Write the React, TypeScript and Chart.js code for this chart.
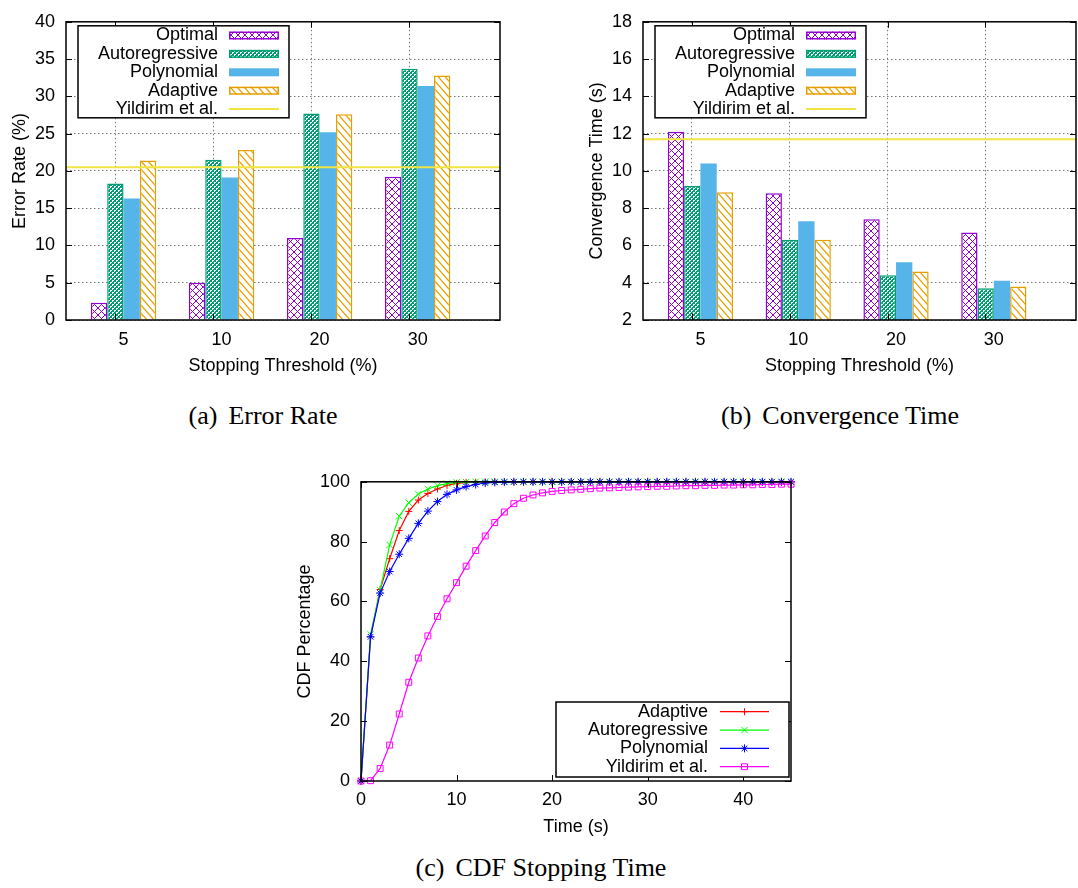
import React, { useEffect, useRef } from 'react';
import { Chart, registerables } from 'chart.js';
import { drawPoint } from 'chart.js/helpers';

Chart.register(...registerables);

const FONT = '"Liberation Sans", Arial, Helvetica, sans-serif';
const SERIF = '"Liberation Serif", "Times New Roman", Times, serif';

const PURPLE = '#9400D3';
const GREEN = '#009E73';
const BLUE = '#56B4E9';
const ORANGE = '#E69F00';
const YELLOW = '#F0E442';
const GRID = '#7a7a7a';

// ---- (a) / (b) data ----
const THRESHOLDS = ['5', '10', '20', '30'];

const ERR_OPTIMAL = [2.3, 5.0, 11.0, 19.2];
const ERR_AUTOREG = [18.3, 21.5, 27.7, 33.7];
const ERR_POLY = [16.3, 19.1, 25.2, 31.4];
const ERR_ADAPTIVE = [21.4, 22.8, 27.6, 32.8];
const ERR_YILDIRIM = 20.5;

const CONV_OPTIMAL = [12.1, 8.8, 7.4, 6.7];
const CONV_AUTOREG = [9.2, 6.3, 4.4, 3.7];
const CONV_POLY = [10.4, 7.3, 5.1, 4.1];
const CONV_ADAPTIVE = [8.85, 6.3, 4.6, 3.8];
const CONV_YILDIRIM = 11.7;

// ---- (c) data ----
const CDF_TIME = [
  0, 1, 2, 3, 4, 5, 6, 7, 8, 9,
  10, 11, 12, 13, 14, 15, 16, 17, 18, 19,
  20, 21, 22, 23, 24, 25, 26, 27, 28, 29,
  30, 31, 32, 33, 34, 35, 36, 37, 38, 39,
  40, 41, 42, 43, 44, 45,
];
const CDF_ADAPTIVE = [
  0, 48.2, 64.0, 74.3, 83.7, 90.1, 93.9, 96.1, 97.6, 98.8,
  99.5, 99.8, 99.9, 100, 100, 100, 100, 100, 100, 100,
  100, 100, 100, 100, 100, 100, 100, 100, 100, 100,
  100, 100, 100, 100, 100, 100, 100, 100, 100, 100,
  100, 100, 100, 100, 100, 100,
];
const CDF_AUTOREG = [
  0, 49.0, 63.8, 78.9, 88.5, 93.0, 95.9, 97.6, 98.7, 99.4,
  99.8, 99.9, 100, 100, 100, 100, 100, 100, 100, 100,
  100, 100, 100, 100, 100, 100, 100, 100, 100, 100,
  100, 100, 100, 100, 100, 100, 100, 100, 100, 100,
  100, 100, 100, 100, 100, 100,
];
const CDF_POLY = [
  0, 48.2, 62.8, 70.0, 75.8, 81.1, 86.1, 90.2, 93.4, 95.8,
  97.3, 98.4, 99.1, 99.6, 99.8, 99.9, 100, 100, 100, 100,
  100, 100, 100, 100, 100, 100, 100, 100, 100, 100,
  100, 100, 100, 100, 100, 100, 100, 100, 100, 100,
  100, 100, 100, 100, 100, 100,
];
const CDF_YILDIRIM = [
  0, 0.1, 4.2, 12.0, 22.4, 33.0, 41.1, 48.5, 55.0, 60.9,
  66.3, 71.8, 77.0, 81.9, 86.4, 89.9, 92.7, 94.5, 95.6, 96.3,
  96.8, 97.1, 97.3, 97.5, 97.7, 97.9, 98.0, 98.1, 98.2, 98.3,
  98.4, 98.5, 98.5, 98.6, 98.7, 98.7, 98.8, 98.8, 98.9, 98.9,
  99.0, 99.0, 99.1, 99.1, 99.2, 99.2,
];

// axis range of the clustered-bar charts (in category units)
const X_MIN = -0.587;
const X_MAX = 3.84;
const GRID_SHIFT = 0.087;

const tickFont = { family: FONT, size: 18 };

function makeTile(ctx: any, w: number, h: number, draw: (g: any) => void) {
  const c = document.createElement('canvas');
  c.width = w;
  c.height = h;
  const g = c.getContext('2d')!;
  draw(g);
  return ctx.createPattern(c, 'repeat');
}

function diag(g: any, w: number, h: number, dir: number) {
  for (const dx of [-w, 0, w]) {
    g.beginPath();
    if (dir > 0) {
      g.moveTo(dx - w * 0.5, -h * 0.5);
      g.lineTo(dx + w * 1.5, h * 1.5);
    } else {
      g.moveTo(dx + w * 1.5, -h * 0.5);
      g.lineTo(dx - w * 0.5, h * 1.5);
    }
    g.stroke();
  }
}

function makePatterns(ctx: any) {
  const cross = makeTile(ctx, 7, 7, (g) => {
    g.fillStyle = '#fff';
    g.fillRect(0, 0, 7, 7);
    g.strokeStyle = PURPLE;
    g.lineWidth = 1;
    diag(g, 7, 7, 1);
    diag(g, 7, 7, -1);
  });
  const dense = makeTile(ctx, 4, 4, (g) => {
    g.fillStyle = GREEN;
    g.fillRect(0, 0, 4, 4);
    g.fillStyle = '#fff';
    g.fillRect(0, 0, 2, 1);
    g.fillRect(0, 1, 1, 1);
    g.fillRect(2, 2, 2, 1);
    g.fillRect(2, 3, 1, 1);
  });
  const hatch = makeTile(ctx, 7, 8, (g) => {
    g.fillStyle = '#fff';
    g.fillRect(0, 0, 7, 8);
    g.strokeStyle = ORANGE;
    g.lineWidth = 1.2;
    diag(g, 7, 8, 1);
  });
  return { cross, dense, hatch };
}

// gnuplot-like frame with inward tick marks on all four sides
const gpFrame = {
  id: 'gpFrame',
  afterDatasetsDraw(chart: any, _args: any, o: any) {
    const { ctx, chartArea: a } = chart;
    const len = 6;
    ctx.save();
    ctx.strokeStyle = '#000';
    ctx.lineWidth = 1;
    ctx.beginPath();
    const ys = chart.scales[o.yId || 'y'];
    for (const t of ys.ticks) {
      const p = Math.round(ys.getPixelForValue(t.value)) + 0.5;
      ctx.moveTo(a.left, p);
      ctx.lineTo(a.left + len, p);
      ctx.moveTo(a.right, p);
      ctx.lineTo(a.right - len, p);
    }
    const xs = chart.scales[o.xId || 'x'];
    for (const t of xs.ticks) {
      const p = Math.round(xs.getPixelForValue(t.value)) + 0.5;
      if (p < a.left - 1 || p > a.right + 1) continue;
      ctx.moveTo(p, a.bottom);
      ctx.lineTo(p, a.bottom - len);
      ctx.moveTo(p, a.top);
      ctx.lineTo(p, a.top + len);
    }
    ctx.stroke();
    ctx.lineWidth = 1.5;
    ctx.strokeRect(a.left, a.top, a.right - a.left, a.bottom - a.top);
    ctx.restore();
  },
};

// gnuplot-like key: right-aligned text, sample on the right
const gpLegend = {
  id: 'gpLegend',
  afterDatasetsDraw(chart: any, _args: any, o: any) {
    if (!o || o.bx0 === undefined) return;
    const { ctx, chartArea: a } = chart;
    const ox = o.fromRight ? a.right : a.left;
    const oy = o.fromBottom ? a.bottom : a.top;
    ctx.save();
    ctx.fillStyle = '#fff';
    ctx.fillRect(ox + o.bx0, oy + o.by0, o.bx1 - o.bx0, o.by1 - o.by0);
    ctx.strokeStyle = '#000';
    ctx.lineWidth = 1.5;
    ctx.strokeRect(ox + o.bx0, oy + o.by0, o.bx1 - o.bx0, o.by1 - o.by0);
    ctx.font = `18px ${FONT}`;
    ctx.textAlign = 'right';
    ctx.textBaseline = 'middle';
    const sx0 = ox + o.s0;
    const sx1 = ox + o.s1;
    chart.data.datasets.forEach((ds: any, i: number) => {
      const y = oy + o.row0 + i * o.step;
      ctx.fillStyle = '#000';
      ctx.fillText(ds.label, ox + o.tr, y);
      const isLine = ds.type === 'line' || chart.config.type === 'line';
      if (isLine) {
        ctx.strokeStyle = ds.borderColor;
        ctx.lineWidth = ds.borderWidth;
        ctx.beginPath();
        ctx.moveTo(sx0, y);
        ctx.lineTo(sx1, y);
        ctx.stroke();
        if (ds.pointRadius > 0) {
          ctx.fillStyle = ds.pointBackgroundColor || 'rgba(0,0,0,0)';
          ctx.strokeStyle = ds.borderColor;
          ctx.lineWidth = ds.pointBorderWidth || 1;
          drawPoint(
            ctx,
            { pointStyle: ds.pointStyle, radius: ds.pointRadius, rotation: 0, borderWidth: ds.pointBorderWidth || 1 } as any,
            (sx0 + sx1) / 2,
            y
          );
        }
      } else {
        const h = o.swH;
        ctx.fillStyle = ds.backgroundColor;
        ctx.fillRect(sx0, y - h / 2, sx1 - sx0, h);
        if (ds.borderWidth) {
          ctx.strokeStyle = ds.borderColor;
          ctx.lineWidth = ds.borderWidth;
          ctx.strokeRect(sx0 + 0.75, y - h / 2 + 0.75, sx1 - sx0 - 1.5, h - 1.5);
        }
      }
    });
    ctx.restore();
  },
};

type BarSpec = {
  optimal: number[];
  autoreg: number[];
  poly: number[];
  adaptive: number[];
  yildirim: number;
  yMin: number;
  yMax: number;
  yStep: number;
  yTitle: string;
  padRight: number;
};

function barConfig(ctx: any, spec: BarSpec) {
  const p = makePatterns(ctx);
  const pts = (arr: number[]) => arr.map((y, i) => ({ x: i, y }));
  const common = { xAxisID: 'x', yAxisID: 'y', categoryPercentage: 0.667, barPercentage: 1, order: 1 };
  return {
    type: 'bar',
    data: {
      datasets: [
        { ...common, label: 'Optimal', data: pts(spec.optimal), backgroundColor: p.cross, borderColor: PURPLE, borderWidth: 1.5 },
        { ...common, label: 'Autoregressive', data: pts(spec.autoreg), backgroundColor: p.dense, borderColor: GREEN, borderWidth: 1.5 },
        { ...common, label: 'Polynomial', data: pts(spec.poly), backgroundColor: BLUE, borderColor: BLUE, borderWidth: 0 },
        { ...common, label: 'Adaptive', data: pts(spec.adaptive), backgroundColor: p.hatch, borderColor: ORANGE, borderWidth: 1.5 },
        {
          type: 'line',
          label: 'Yildirim et al.',
          xAxisID: 'x',
          yAxisID: 'y',
          data: [
            { x: X_MIN, y: spec.yildirim },
            { x: X_MAX, y: spec.yildirim },
          ],
          borderColor: YELLOW,
          borderWidth: 2,
          pointRadius: 0,
          order: 0,
        },
      ],
    },
    options: {
      responsive: false,
      animation: false,
      devicePixelRatio: 1,
      events: [],
      layout: { padding: { left: 0, top: 11, right: spec.padRight, bottom: 0 } },
      plugins: {
        legend: { display: false },
        tooltip: { enabled: false },
        gpFrame: { xId: 'xg', yId: 'y' },
        gpLegend: {
          fromRight: false,
          fromBottom: false,
          bx0: 12, by0: 4, bx1: 223, by1: 96,
          tr: 152, s0: 163, s1: 213,
          row0: 13.7, step: 18.4, swH: 8,
        },
      },
      scales: {
        x: {
          type: 'linear',
          position: 'bottom',
          min: X_MIN,
          max: X_MAX,
          offset: false,
          grid: { display: false, offset: false, drawTicks: false },
          border: { display: false },
          ticks: {
            stepSize: 1,
            includeBounds: false,
            autoSkip: false,
            maxRotation: 0,
            padding: 9,
            color: '#000',
            font: tickFont,
            callback: (v: any) => THRESHOLDS[v] ?? '',
          },
          title: { display: true, text: 'Stopping Threshold (%)', color: '#000', font: tickFont, padding: { top: 0, bottom: 3 } },
          afterFit: (s: any) => { s.height = 60; },
        },
        xg: {
          type: 'linear',
          position: 'bottom',
          min: X_MIN + GRID_SHIFT,
          max: X_MAX + GRID_SHIFT,
          offset: false,
          ticks: { display: false, stepSize: 1, includeBounds: false },
          grid: { display: true, offset: false, drawTicks: false, color: GRID, lineWidth: 1 },
          border: { display: false, dash: [1.5, 2.5] },
          afterFit: (s: any) => { s.height = 0; },
        },
        y: {
          type: 'linear',
          min: spec.yMin,
          max: spec.yMax,
          beginAtZero: false,
          ticks: { stepSize: spec.yStep, padding: 11, color: '#000', font: tickFont },
          grid: { display: true, drawTicks: false, color: GRID, lineWidth: 1 },
          border: { display: false, dash: [1.5, 2.5] },
          title: { display: true, text: spec.yTitle, color: '#000', font: tickFont, padding: { top: 9, bottom: 0 } },
          afterFit: (s: any) => { s.width = 66; },
        },
      },
    },
    plugins: [gpFrame, gpLegend],
  };
}

function cdfConfig(_ctx: any) {
  const zip = (ys: number[]) => CDF_TIME.map((x, i) => ({ x, y: ys[i] }));
  const line = { borderWidth: 1.2, pointBorderWidth: 1, clip: 8, tension: 0 };
  return {
    type: 'line',
    data: {
      datasets: [
        { ...line, label: 'Adaptive', data: zip(CDF_ADAPTIVE), borderColor: '#FF0000', backgroundColor: '#FF0000', pointBackgroundColor: '#FF0000', pointStyle: 'cross', pointRadius: 3.5, order: 3 },
        { ...line, label: 'Autoregressive', data: zip(CDF_AUTOREG), borderColor: '#00FF00', backgroundColor: '#00FF00', pointBackgroundColor: '#00FF00', pointStyle: 'crossRot', pointRadius: 4.5, order: 2 },
        { ...line, label: 'Polynomial', data: zip(CDF_POLY), borderColor: '#0000FF', backgroundColor: '#0000FF', pointBackgroundColor: '#0000FF', pointStyle: 'star', pointRadius: 4, order: 1 },
        { ...line, label: 'Yildirim et al.', data: zip(CDF_YILDIRIM), borderColor: '#FF00FF', backgroundColor: 'rgba(0,0,0,0)', pointBackgroundColor: 'rgba(0,0,0,0)', pointStyle: 'rect', pointRadius: 4.2, order: 0 },
      ],
    },
    options: {
      responsive: false,
      animation: false,
      devicePixelRatio: 1,
      events: [],
      layout: { padding: { left: 0, top: 11, right: 9, bottom: 0 } },
      plugins: {
        legend: { display: false },
        tooltip: { enabled: false },
        gpFrame: { xId: 'x', yId: 'y' },
        gpLegend: {
          fromRight: true,
          fromBottom: true,
          bx0: -235, by0: -79, bx1: -2, by1: -4,
          tr: -83, s0: -71, s1: -22,
          row0: -69.3, step: 18.33, swH: 8,
        },
      },
      scales: {
        x: {
          type: 'linear',
          min: 0,
          max: 45,
          grid: { display: false, drawTicks: false },
          border: { display: false },
          ticks: { stepSize: 10, includeBounds: false, maxRotation: 0, padding: 8, color: '#000', font: tickFont },
          title: { display: true, text: 'Time (s)', color: '#000', font: tickFont, padding: { top: 0, bottom: 2 } },
          afterFit: (s: any) => { s.height = 59; },
        },
        y: {
          type: 'linear',
          min: 0,
          max: 100,
          grid: { display: false, drawTicks: false },
          border: { display: false },
          ticks: { stepSize: 20, padding: 11, color: '#000', font: tickFont },
          title: { display: true, text: 'CDF Percentage', color: '#000', font: tickFont, padding: { top: 9, bottom: 0 } },
          afterFit: (s: any) => { s.width = 76; },
        },
      },
    },
    plugins: [gpFrame, gpLegend],
  };
}

const makeError = (ctx: any) =>
  barConfig(ctx, {
    optimal: ERR_OPTIMAL,
    autoreg: ERR_AUTOREG,
    poly: ERR_POLY,
    adaptive: ERR_ADAPTIVE,
    yildirim: ERR_YILDIRIM,
    yMin: 0,
    yMax: 40,
    yStep: 5,
    yTitle: 'Error Rate (%)',
    padRight: 10,
  });

const makeConv = (ctx: any) =>
  barConfig(ctx, {
    optimal: CONV_OPTIMAL,
    autoreg: CONV_AUTOREG,
    poly: CONV_POLY,
    adaptive: CONV_ADAPTIVE,
    yildirim: CONV_YILDIRIM,
    yMin: 2,
    yMax: 18,
    yStep: 2,
    yTitle: 'Convergence Time (s)',
    padRight: 2,
  });

function ChartBox({ left, top, width, height, make }: any) {
  const ref = useRef<HTMLCanvasElement>(null);
  useEffect(() => {
    const canvas = ref.current!;
    const ctx = canvas.getContext('2d');
    const chart = new Chart(canvas, make(ctx) as any);
    return () => chart.destroy();
  }, [make]);
  return (
    <div style={{ position: 'absolute', left, top, width, height }}>
      <canvas ref={ref} width={width} height={height} style={{ display: 'block', width, height }} />
    </div>
  );
}

function Caption({ center, top, tag, text }: any) {
  return (
    <div
      style={{
        position: 'absolute',
        left: center - 200,
        top,
        width: 400,
        textAlign: 'center',
        fontFamily: SERIF,
        fontSize: 26,
        lineHeight: '30px',
        color: '#000',
        whiteSpace: 'nowrap',
      }}
    >
      {tag}
      <span style={{ marginLeft: 11 }}>{text}</span>
    </div>
  );
}

export default function App() {
  return (
    <div style={{ position: 'absolute', left: 0, top: 0, width: 1078, height: 888, background: '#fff', overflow: 'hidden' }}>
      <ChartBox left={0} top={0} width={510} height={380} make={makeError} />
      <ChartBox left={577} top={0} width={501} height={380} make={makeConv} />
      <ChartBox left={285} top={460} width={515} height={380} make={cdfConfig} />
      <Caption center={263} top={401} tag="(a)" text="Error Rate" />
      <Caption center={840} top={401} tag="(b)" text="Convergence Time" />
      <Caption center={541} top={853} tag="(c)" text="CDF Stopping Time" />
    </div>
  );
}
